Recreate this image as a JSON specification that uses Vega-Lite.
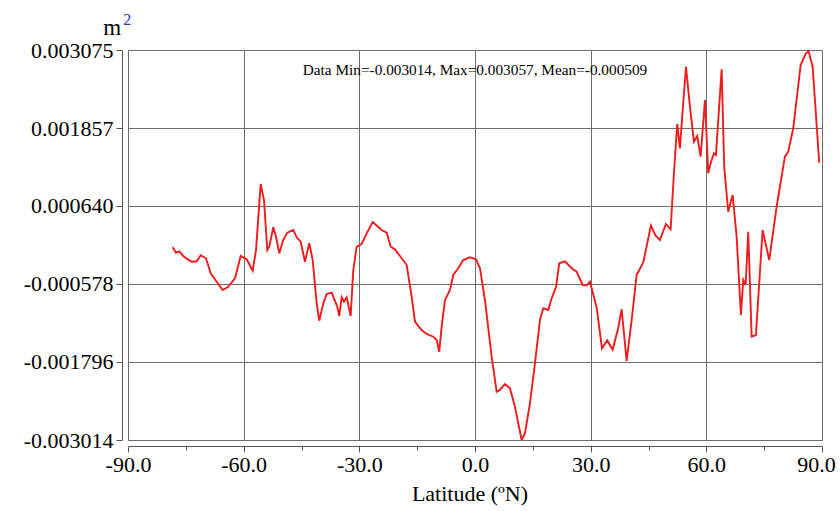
{
  "$schema": "https://vega.github.io/schema/vega-lite/v6.json",
  "width": 694,
  "height": 390,
  "autosize": {"type": "none"},
  "padding": {"left": 128, "top": 50, "right": 18, "bottom": 71},
  "background": "white",
  "config": {
    "view": {"stroke": "#707070", "strokeWidth": 1},
    "font": "Liberation Serif"
  },
  "layer": [
    {
      "data": {"values": [
        {"lat": -78.41, "v": -0.000005}, {"lat": -77.55, "v": -0.00009}, {"lat": -76.7, "v": -0.000068},
        {"lat": -75.66, "v": -0.000141}, {"lat": -74.78, "v": -0.000183}, {"lat": -73.48, "v": -0.00023},
        {"lat": -72.18, "v": -0.000224}, {"lat": -71.15, "v": -0.00013}, {"lat": -69.77, "v": -0.000177},
        {"lat": -68.55, "v": -0.000411}, {"lat": -67.0, "v": -0.000543}, {"lat": -65.44, "v": -0.000672},
        {"lat": -63.99, "v": -0.000621}, {"lat": -62.25, "v": -0.000489}, {"lat": -60.77, "v": -0.000141},
        {"lat": -59.22, "v": -0.000193}, {"lat": -57.66, "v": -0.000371}, {"lat": -56.8, "v": -0.000048},
        {"lat": -55.59, "v": 0.000983}, {"lat": -54.73, "v": 0.000733}, {"lat": -53.87, "v": -0.000048},
        {"lat": -53.36, "v": 0.000004}, {"lat": -52.32, "v": 0.000307}, {"lat": -51.62, "v": 0.00016},
        {"lat": -50.76, "v": -0.000099}, {"lat": -49.73, "v": 0.000109}, {"lat": -48.69, "v": 0.000223},
        {"lat": -47.13, "v": 0.000265}, {"lat": -46.25, "v": 0.000151}, {"lat": -45.21, "v": 0.000082},
        {"lat": -44.1, "v": -0.00023}, {"lat": -42.98, "v": 0.000057}, {"lat": -42.1, "v": -0.000204},
        {"lat": -41.06, "v": -0.00088}, {"lat": -40.39, "v": -0.001151}, {"lat": -39.35, "v": -0.00088},
        {"lat": -38.47, "v": -0.000735}, {"lat": -37.17, "v": -0.000714}, {"lat": -36.06, "v": -0.00088},
        {"lat": -35.72, "v": -0.000933}, {"lat": -35.2, "v": -0.001078}, {"lat": -34.58, "v": -0.000786},
        {"lat": -33.98, "v": -0.000855}, {"lat": -33.28, "v": -0.000786}, {"lat": -32.25, "v": -0.001078},
        {"lat": -31.57, "v": -0.00036}, {"lat": -30.69, "v": 0.000004}, {"lat": -29.39, "v": 0.000046},
        {"lat": -28.1, "v": 0.000213}, {"lat": -26.54, "v": 0.00039}, {"lat": -25.68, "v": 0.000343},
        {"lat": -24.21, "v": 0.000265}, {"lat": -22.91, "v": 0.000223}, {"lat": -21.87, "v": 0.000004},
        {"lat": -20.76, "v": -0.000037}, {"lat": -19.46, "v": -0.000141}, {"lat": -17.72, "v": -0.000282},
        {"lat": -16.43, "v": -0.000777}, {"lat": -15.57, "v": -0.001167}, {"lat": -13.83, "v": -0.001297},
        {"lat": -12.54, "v": -0.001359}, {"lat": -10.83, "v": -0.001401}, {"lat": -9.94, "v": -0.001453},
        {"lat": -9.27, "v": -0.001635}, {"lat": -8.65, "v": -0.001245}, {"lat": -7.79, "v": -0.000828},
        {"lat": -6.49, "v": -0.000672}, {"lat": -5.64, "v": -0.000438}, {"lat": -4.34, "v": -0.000333},
        {"lat": -3.04, "v": -0.000204}, {"lat": -1.31, "v": -0.000162}, {"lat": 0.25, "v": -0.000193},
        {"lat": 1.29, "v": -0.000333}, {"lat": 2.58, "v": -0.000828}, {"lat": 4.32, "v": -0.001713},
        {"lat": 5.62, "v": -0.00226}, {"lat": 6.47, "v": -0.002233}, {"lat": 7.77, "v": -0.00214},
        {"lat": 9.07, "v": -0.002207}, {"lat": 10.36, "v": -0.002494}, {"lat": 12.1, "v": -0.003014},
        {"lat": 12.96, "v": -0.002909}, {"lat": 14.25, "v": -0.002441}, {"lat": 15.55, "v": -0.001817},
        {"lat": 16.85, "v": -0.001141}, {"lat": 17.7, "v": -0.000958}, {"lat": 19.0, "v": -0.000984},
        {"lat": 19.88, "v": -0.000802}, {"lat": 21.0, "v": -0.00063}, {"lat": 21.85, "v": -0.000255},
        {"lat": 23.33, "v": -0.000224}, {"lat": 25.07, "v": -0.000333}, {"lat": 26.36, "v": -0.000386},
        {"lat": 27.92, "v": -0.000594}, {"lat": 28.96, "v": -0.000599}, {"lat": 29.81, "v": -0.000543},
        {"lat": 31.55, "v": -0.000945}, {"lat": 32.93, "v": -0.001582}, {"lat": 34.3, "v": -0.001459},
        {"lat": 35.7, "v": -0.001604}, {"lat": 37.15, "v": -0.001265}, {"lat": 38.03, "v": -0.000973},
        {"lat": 39.33, "v": -0.00178}, {"lat": 40.63, "v": -0.001141}, {"lat": 41.92, "v": -0.000438},
        {"lat": 43.64, "v": -0.000243}, {"lat": 45.63, "v": 0.000335}, {"lat": 46.8, "v": 0.000179},
        {"lat": 47.97, "v": 0.000109}, {"lat": 49.52, "v": 0.000358}, {"lat": 50.74, "v": 0.000276},
        {"lat": 51.6, "v": 0.00115}, {"lat": 52.45, "v": 0.00192}, {"lat": 53.15, "v": 0.00154},
        {"lat": 53.59, "v": 0.001904}, {"lat": 54.71, "v": 0.002814}, {"lat": 55.75, "v": 0.00219},
        {"lat": 56.78, "v": 0.001643}, {"lat": 57.64, "v": 0.001732}, {"lat": 58.52, "v": 0.001409},
        {"lat": 59.64, "v": 0.002294}, {"lat": 60.49, "v": 0.00115}, {"lat": 61.11, "v": 0.001306},
        {"lat": 61.97, "v": 0.001462}, {"lat": 62.49, "v": 0.001436}, {"lat": 63.97, "v": 0.002774},
        {"lat": 64.64, "v": 0.001253}, {"lat": 65.68, "v": 0.00055}, {"lat": 66.82, "v": 0.000811},
        {"lat": 67.86, "v": 0.00016}, {"lat": 68.97, "v": -0.001062}, {"lat": 69.57, "v": -0.000516},
        {"lat": 70.19, "v": -0.000594}, {"lat": 70.87, "v": 0.000238}, {"lat": 71.75, "v": -0.001401},
        {"lat": 72.86, "v": -0.001375}, {"lat": 74.6, "v": 0.000265}, {"lat": 76.31, "v": -0.000204},
        {"lat": 78.23, "v": 0.000628}, {"lat": 80.38, "v": 0.001409}, {"lat": 81.24, "v": 0.001487},
        {"lat": 82.54, "v": 0.001853}, {"lat": 84.46, "v": 0.002841}, {"lat": 85.83, "v": 0.003023},
        {"lat": 86.53, "v": 0.003057}, {"lat": 87.57, "v": 0.002814}, {"lat": 89.28, "v": 0.001315}
      ]},
      "mark": {"type": "line", "color": "#ee1c1c", "strokeWidth": 1.9, "clip": true},
      "encoding": {
        "x": {
          "field": "lat", "type": "quantitative",
          "scale": {"domain": [-90, 90], "nice": false, "zero": false},
          "axis": {
            "values": [-90, -75, -60, -45, -30, -15, 0, 15, 30, 45, 60, 75, 90],
            "labelExpr": "datum.value % 30 == 0 ? replace(format(datum.value, '.1f'), '\u2212', '-') : ''",
            "offset": 6,
            "domainColor": "#555555", "domainWidth": 1,
            "tickColor": "#555555",
            "tickSize": {"condition": {"test": "datum.value % 30 == 0", "value": 6}, "value": 4},
            "labelOffset": {"condition": {"test": "datum.value == 90", "value": -6}, "value": 0},
            "grid": true,
            "gridColor": "#6e6e6e",
            "gridOpacity": {"condition": {"test": "datum.value % 30 == 0", "value": 1}, "value": 0},
            "labelFont": "Liberation Serif", "labelFontSize": 22, "labelColor": "black",
            "labelPadding": 2, "labelFlush": false, "labelOverlap": false,
            "title": null
          }
        },
        "y": {
          "field": "v", "type": "quantitative",
          "scale": {"domain": [-0.003014, 0.003075], "nice": false, "zero": false},
          "axis": {
            "values": [-0.003014, -0.002405, -0.001796, -0.001187, -0.000578, 0.000031, 0.00064, 0.0012485, 0.001857, 0.002466, 0.003075],
            "labelExpr": "indexof([-0.003014, -0.001796, -0.000578, 0.00064, 0.001857, 0.003075], datum.value) >= 0 ? replace(format(datum.value, '.6f'), '\u2212', '-') : ''",
            "offset": 6,
            "domainColor": "#555555", "domainWidth": 1,
            "tickColor": "#555555",
            "tickSize": {"condition": {"test": "indexof([-0.003014, -0.001796, -0.000578, 0.00064, 0.001857, 0.003075], datum.value) >= 0", "value": 6}, "value": 3},
            "grid": true,
            "gridColor": "#6e6e6e",
            "gridOpacity": {"condition": {"test": "indexof([-0.003014, -0.001796, -0.000578, 0.00064, 0.001857, 0.003075], datum.value) >= 0", "value": 1}, "value": 0},
            "labelFont": "Liberation Serif", "labelFontSize": 22, "labelColor": "black",
            "labelPadding": 3, "labelFlush": false, "labelOverlap": false,
            "title": null
          }
        }
      }
    },
    {
      "data": {"values": [{"lat": 0, "v": 0.00276, "label": "Data Min=-0.003014, Max=0.003057, Mean=-0.000509"}]},
      "mark": {"type": "text", "font": "Liberation Serif", "fontSize": 15.3, "color": "black", "align": "center", "baseline": "middle"},
      "encoding": {
        "x": {"field": "lat", "type": "quantitative"},
        "y": {"field": "v", "type": "quantitative"},
        "text": {"field": "label"}
      }
    },
    {
      "data": {"values": [{"lat": -1.3, "v": -0.003857, "label": "Latitude (ºN)"}]},
      "mark": {"type": "text", "font": "Liberation Serif", "fontSize": 22, "color": "black", "align": "center", "baseline": "middle"},
      "encoding": {
        "x": {"field": "lat", "type": "quantitative"},
        "y": {"field": "v", "type": "quantitative"},
        "text": {"field": "label"}
      }
    },
    {
      "data": {"values": [{"lat": -94.1, "v": 0.00331, "label": "m"}]},
      "mark": {"type": "text", "font": "Liberation Serif", "fontSize": 23, "color": "black", "align": "center", "baseline": "alphabetic"},
      "encoding": {
        "x": {"field": "lat", "type": "quantitative"},
        "y": {"field": "v", "type": "quantitative"},
        "text": {"field": "label"}
      }
    },
    {
      "data": {"values": [{"lat": -90.2, "v": 0.00347, "label": "2"}]},
      "mark": {"type": "text", "font": "Liberation Serif", "fontSize": 16, "color": "#1f3bb3", "align": "center", "baseline": "alphabetic"},
      "encoding": {
        "x": {"field": "lat", "type": "quantitative"},
        "y": {"field": "v", "type": "quantitative"},
        "text": {"field": "label"}
      }
    }
  ]
}
